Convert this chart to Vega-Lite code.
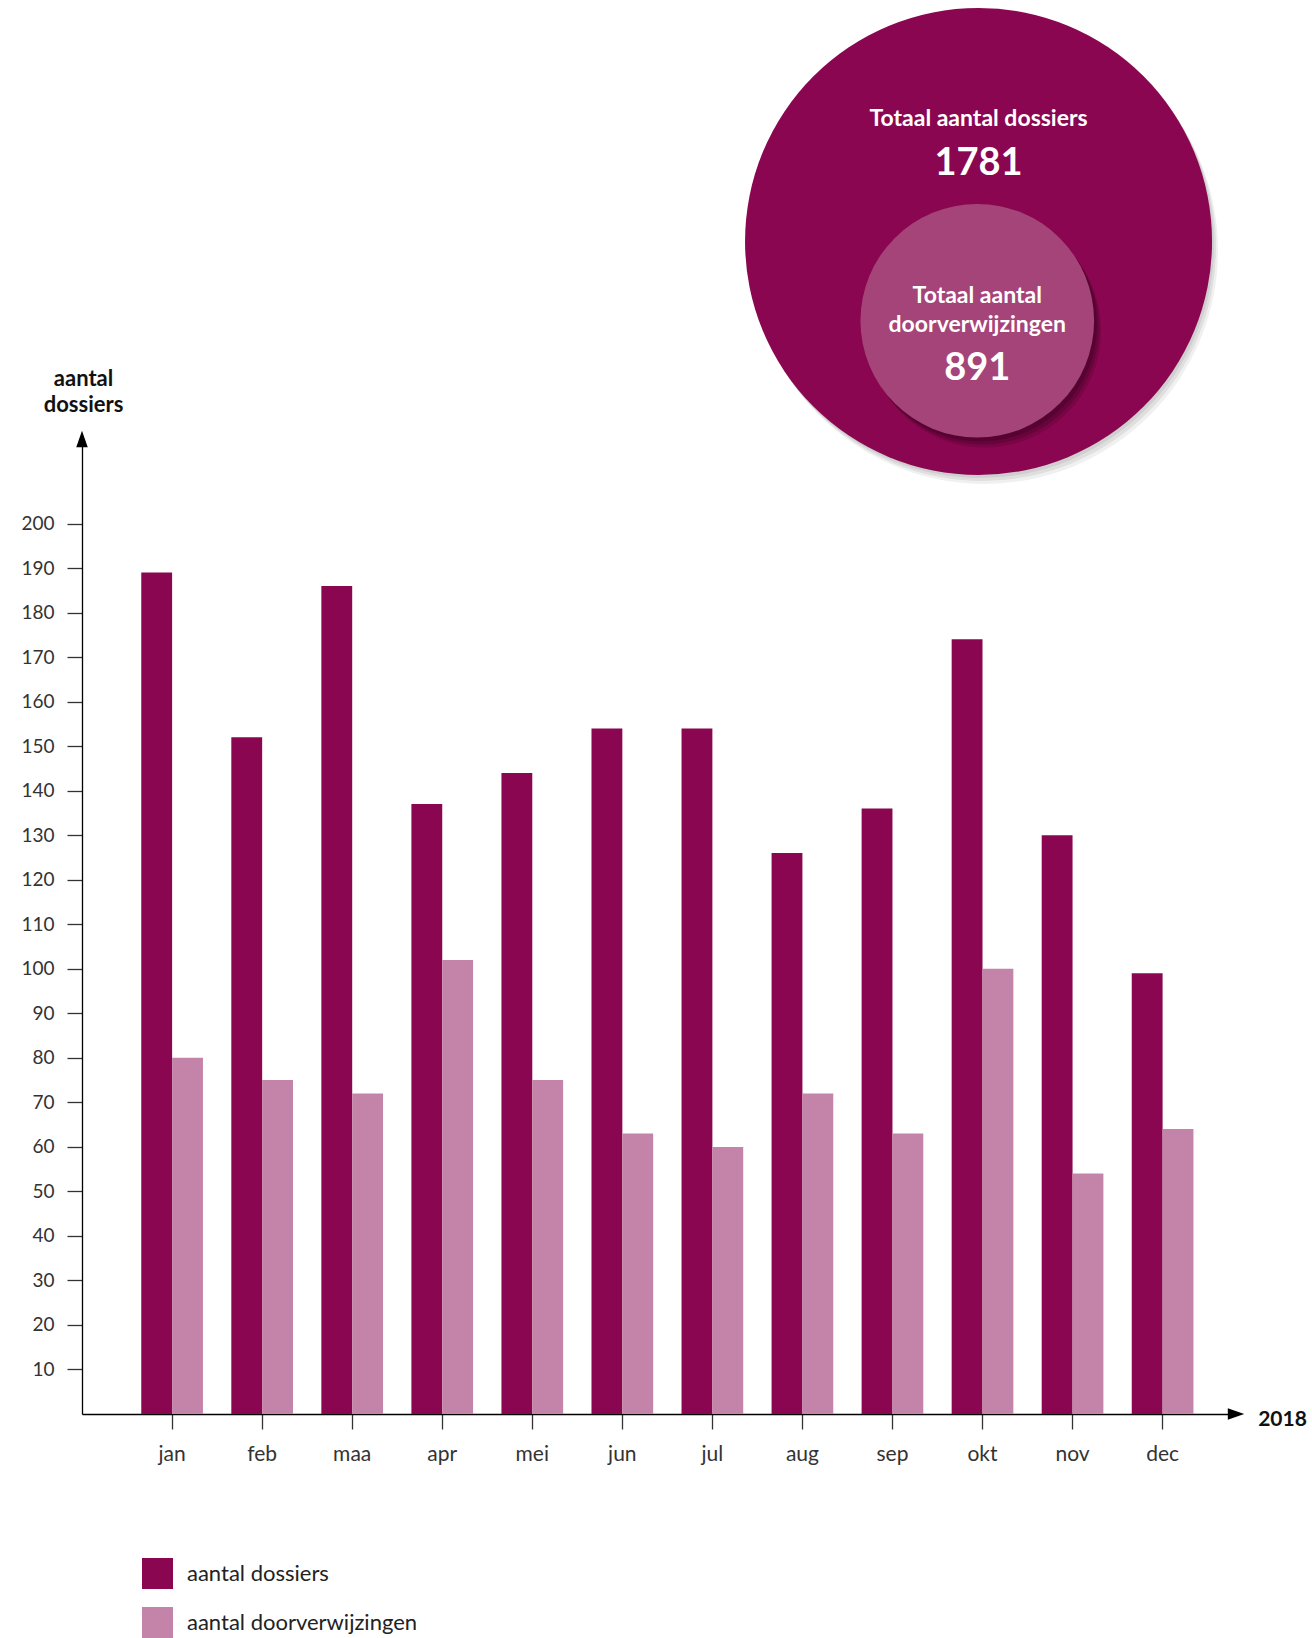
{
  "$schema": "https://vega.github.io/schema/vega-lite/v6.json",
  "autosize": {"type": "none"},
  "width": 1154,
  "height": 975,
  "padding": {"left": 82, "top": 439, "right": 76, "bottom": 224},
  "background": "white",
  "config": {
    "view": {"stroke": null},
    "font": "Lato"
  },
  "datasets": {
    "maanden": [
      {"maand": "jan", "reeks": "aantal dossiers", "aantal": 189},
      {"maand": "jan", "reeks": "aantal doorverwijzingen", "aantal": 80},
      {"maand": "feb", "reeks": "aantal dossiers", "aantal": 152},
      {"maand": "feb", "reeks": "aantal doorverwijzingen", "aantal": 75},
      {"maand": "maa", "reeks": "aantal dossiers", "aantal": 186},
      {"maand": "maa", "reeks": "aantal doorverwijzingen", "aantal": 72},
      {"maand": "apr", "reeks": "aantal dossiers", "aantal": 137},
      {"maand": "apr", "reeks": "aantal doorverwijzingen", "aantal": 102},
      {"maand": "mei", "reeks": "aantal dossiers", "aantal": 144},
      {"maand": "mei", "reeks": "aantal doorverwijzingen", "aantal": 75},
      {"maand": "jun", "reeks": "aantal dossiers", "aantal": 154},
      {"maand": "jun", "reeks": "aantal doorverwijzingen", "aantal": 63},
      {"maand": "jul", "reeks": "aantal dossiers", "aantal": 154},
      {"maand": "jul", "reeks": "aantal doorverwijzingen", "aantal": 60},
      {"maand": "aug", "reeks": "aantal dossiers", "aantal": 126},
      {"maand": "aug", "reeks": "aantal doorverwijzingen", "aantal": 72},
      {"maand": "sep", "reeks": "aantal dossiers", "aantal": 136},
      {"maand": "sep", "reeks": "aantal doorverwijzingen", "aantal": 63},
      {"maand": "okt", "reeks": "aantal dossiers", "aantal": 174},
      {"maand": "okt", "reeks": "aantal doorverwijzingen", "aantal": 100},
      {"maand": "nov", "reeks": "aantal dossiers", "aantal": 130},
      {"maand": "nov", "reeks": "aantal doorverwijzingen", "aantal": 54},
      {"maand": "dec", "reeks": "aantal dossiers", "aantal": 99},
      {"maand": "dec", "reeks": "aantal doorverwijzingen", "aantal": 64}
    ],
    "totalen": [
      {"soort": "dossiers", "titel": "Totaal aantal dossiers", "totaal": 1781, "cx": 77.69, "cy": 120.26},
      {"soort": "doorverwijzingen", "titel": "Totaal aantal\ndoorverwijzingen", "totaal": 891, "cx": 77.58, "cy": 112.13}
    ],
    "pijlen": [
      {"pijl": "omhoog", "px": 0, "py": 100},
      {"pijl": "rechts", "px": 100, "py": 0}
    ]
  },
  "resolve": {"scale": {"x": "independent", "y": "independent", "size": "independent", "shape": "independent", "color": "independent"}},
  "layer": [
    {
      "data": {"name": "maanden"},
      "mark": {"type": "bar"},
      "encoding": {
        "x": {
          "field": "maand", "type": "nominal",
          "sort": ["jan","feb","maa","apr","mei","jun","jul","aug","sep","okt","nov","dec"],
          "scale": {"paddingInner": 0.315, "paddingOuter": 0.5655, "align": 0.582},
          "axis": {
            "labelAngle": 0, "domainColor": "#000000", "domainWidth": 1.3,
            "tickColor": "#333333", "tickWidth": 1.3, "tickSize": 15,
            "labelFontSize": 21, "labelFont": "Lato", "labelColor": "#333333",
            "labelBaseline": "alphabetic", "labelPadding": 31,
            "title": "2018", "titleFont": "Lato", "titleFontSize": 21, "titleFontWeight": "bold",
            "titleColor": "#111111", "titleAngle": 0, "titleAlign": "center", "titleBaseline": "alphabetic",
            "titleX": 1200, "titleY": 11
          }
        },
        "xOffset": {
          "field": "reeks", "type": "nominal",
          "sort": ["aantal dossiers", "aantal doorverwijzingen"],
          "scale": {"paddingInner": 0, "paddingOuter": 0}
        },
        "y": {
          "field": "aantal", "type": "quantitative",
          "scale": {"domain": [0, 219], "nice": false, "zero": true},
          "axis": {
            "values": [10,20,30,40,50,60,70,80,90,100,110,120,130,140,150,160,170,180,190,200],
            "grid": false, "domainColor": "#000000", "domainWidth": 1.3,
            "tickColor": "#333333", "tickWidth": 1.3, "tickSize": 15,
            "labelFontSize": 19, "labelFont": "Lato", "labelColor": "#333333", "labelPadding": 13,
            "title": ["aantal", "dossiers"], "titleFont": "Lato", "titleFontSize": 22, "titleFontWeight": "bold",
            "titleColor": "#111111", "titleAngle": 0, "titleAlign": "center", "titleBaseline": "alphabetic",
            "titleX": 1, "titleY": -54, "titleLineHeight": 26
          }
        },
        "color": {
          "field": "reeks", "type": "nominal",
          "scale": {"domain": ["aantal dossiers", "aantal doorverwijzingen"], "range": ["#8A0650", "#C483A8"]},
          "legend": {
            "orient": "none", "legendX": 60, "legendY": 1119, "direction": "vertical",
            "title": null, "symbolType": "square", "symbolSize": 961, "symbolStrokeWidth": 0,
            "symbolOpacity": 1, "rowPadding": 18, "labelOffset": 14, "labelFontSize": 22,
            "labelFont": "Lato", "labelColor": "#222222", "labelLimit": 0, "padding": 0
          }
        }
      }
    },
    {
      "data": {"name": "pijlen"},
      "mark": {"type": "point", "filled": true, "opacity": 1, "color": "#000000", "size": 270},
      "encoding": {
        "x": {"field": "px", "type": "quantitative", "scale": {"domain": [0, 100], "nice": false, "zero": false}, "axis": null},
        "y": {"field": "py", "type": "quantitative", "scale": {"domain": [0, 100], "nice": false, "zero": false}, "axis": null},
        "shape": {"field": "pijl", "type": "nominal", "scale": {"domain": ["omhoog", "rechts"], "range": ["M0,-1L-0.7,1L0.7,1Z", "M1,0L-1,-0.7L-1,0.7Z"]}, "legend": null}
      }
    },
    {
      "data": {"name": "totalen"},
      "transform": [{"filter": "datum.soort === 'dossiers'"}],
      "mark": {"type": "point", "filled": true, "opacity": 0.07, "color": "#000000", "xOffset": 2, "yOffset": 3},
      "encoding": {
        "x": {"field": "cx", "type": "quantitative", "scale": {"domain": [0, 100], "nice": false, "zero": false}, "axis": null},
        "y": {"field": "cy", "type": "quantitative", "scale": {"domain": [0, 100], "nice": false, "zero": false}, "axis": null},
        "size": {"field": "totaal", "type": "quantitative", "scale": {"type": "pow", "exponent": 2, "domain": [0, 1781], "range": [0, 218089]}, "legend": null}
      }
    },
    {
      "data": {"name": "totalen"},
      "transform": [{"filter": "datum.soort === 'dossiers'"}],
      "mark": {"type": "point", "filled": true, "opacity": 0.07, "color": "#000000", "xOffset": 4, "yOffset": 6},
      "encoding": {
        "x": {"field": "cx", "type": "quantitative", "scale": {"domain": [0, 100], "nice": false, "zero": false}, "axis": null},
        "y": {"field": "cy", "type": "quantitative", "scale": {"domain": [0, 100], "nice": false, "zero": false}, "axis": null},
        "size": {"field": "totaal", "type": "quantitative", "scale": {"type": "pow", "exponent": 2, "domain": [0, 1781], "range": [0, 218089]}, "legend": null}
      }
    },
    {
      "data": {"name": "totalen"},
      "transform": [{"filter": "datum.soort === 'dossiers'"}],
      "mark": {"type": "point", "filled": true, "opacity": 0.06, "color": "#000000", "xOffset": 6, "yOffset": 9},
      "encoding": {
        "x": {"field": "cx", "type": "quantitative", "scale": {"domain": [0, 100], "nice": false, "zero": false}, "axis": null},
        "y": {"field": "cy", "type": "quantitative", "scale": {"domain": [0, 100], "nice": false, "zero": false}, "axis": null},
        "size": {"field": "totaal", "type": "quantitative", "scale": {"type": "pow", "exponent": 2, "domain": [0, 1781], "range": [0, 218089]}, "legend": null}
      }
    },
    {
      "data": {"name": "totalen"},
      "transform": [{"filter": "datum.soort === 'dossiers'"}],
      "mark": {"type": "point", "filled": true, "opacity": 1, "color": "#8A0650"},
      "encoding": {
        "x": {"field": "cx", "type": "quantitative", "scale": {"domain": [0, 100], "nice": false, "zero": false}, "axis": null},
        "y": {"field": "cy", "type": "quantitative", "scale": {"domain": [0, 100], "nice": false, "zero": false}, "axis": null},
        "size": {"field": "totaal", "type": "quantitative", "scale": {"type": "pow", "exponent": 2, "domain": [0, 1781], "range": [0, 218089]}, "legend": null}
      }
    },
    {
      "data": {"name": "totalen"},
      "transform": [{"filter": "datum.soort === 'doorverwijzingen'"}],
      "mark": {"type": "point", "filled": true, "opacity": 0.15, "color": "#000000", "xOffset": 3, "yOffset": 4},
      "encoding": {
        "x": {"field": "cx", "type": "quantitative", "scale": {"domain": [0, 100], "nice": false, "zero": false}, "axis": null},
        "y": {"field": "cy", "type": "quantitative", "scale": {"domain": [0, 100], "nice": false, "zero": false}, "axis": null},
        "size": {"field": "totaal", "type": "quantitative", "scale": {"type": "pow", "exponent": 2, "domain": [0, 1781], "range": [0, 218089]}, "legend": null}
      }
    },
    {
      "data": {"name": "totalen"},
      "transform": [{"filter": "datum.soort === 'doorverwijzingen'"}],
      "mark": {"type": "point", "filled": true, "opacity": 0.14, "color": "#000000", "xOffset": 5, "yOffset": 7},
      "encoding": {
        "x": {"field": "cx", "type": "quantitative", "scale": {"domain": [0, 100], "nice": false, "zero": false}, "axis": null},
        "y": {"field": "cy", "type": "quantitative", "scale": {"domain": [0, 100], "nice": false, "zero": false}, "axis": null},
        "size": {"field": "totaal", "type": "quantitative", "scale": {"type": "pow", "exponent": 2, "domain": [0, 1781], "range": [0, 218089]}, "legend": null}
      }
    },
    {
      "data": {"name": "totalen"},
      "transform": [{"filter": "datum.soort === 'doorverwijzingen'"}],
      "mark": {"type": "point", "filled": true, "opacity": 0.12, "color": "#000000", "xOffset": 7, "yOffset": 10},
      "encoding": {
        "x": {"field": "cx", "type": "quantitative", "scale": {"domain": [0, 100], "nice": false, "zero": false}, "axis": null},
        "y": {"field": "cy", "type": "quantitative", "scale": {"domain": [0, 100], "nice": false, "zero": false}, "axis": null},
        "size": {"field": "totaal", "type": "quantitative", "scale": {"type": "pow", "exponent": 2, "domain": [0, 1781], "range": [0, 218089]}, "legend": null}
      }
    },
    {
      "data": {"name": "totalen"},
      "transform": [{"filter": "datum.soort === 'doorverwijzingen'"}],
      "mark": {"type": "point", "filled": true, "opacity": 1, "color": "#A54478"},
      "encoding": {
        "x": {"field": "cx", "type": "quantitative", "scale": {"domain": [0, 100], "nice": false, "zero": false}, "axis": null},
        "y": {"field": "cy", "type": "quantitative", "scale": {"domain": [0, 100], "nice": false, "zero": false}, "axis": null},
        "size": {"field": "totaal", "type": "quantitative", "scale": {"type": "pow", "exponent": 2, "domain": [0, 1781], "range": [0, 218089]}, "legend": null}
      }
    },
    {
      "data": {"name": "totalen"},
      "transform": [{"filter": "datum.soort === 'dossiers'"}],
      "mark": {"type": "text", "color": "white", "font": "Lato", "fontWeight": "bold", "fontSize": 23, "align": "center", "baseline": "alphabetic", "dy": -115.5},
      "encoding": {
        "x": {"field": "cx", "type": "quantitative", "scale": {"domain": [0, 100], "nice": false, "zero": false}, "axis": null},
        "y": {"field": "cy", "type": "quantitative", "scale": {"domain": [0, 100], "nice": false, "zero": false}, "axis": null},
        "text": {"field": "titel", "type": "nominal"}
      }
    },
    {
      "data": {"name": "totalen"},
      "transform": [{"filter": "datum.soort === 'dossiers'"}],
      "mark": {"type": "text", "color": "white", "font": "Lato", "fontWeight": "bold", "fontSize": 38, "align": "center", "baseline": "alphabetic", "dy": -66.5},
      "encoding": {
        "x": {"field": "cx", "type": "quantitative", "scale": {"domain": [0, 100], "nice": false, "zero": false}, "axis": null},
        "y": {"field": "cy", "type": "quantitative", "scale": {"domain": [0, 100], "nice": false, "zero": false}, "axis": null},
        "text": {"field": "totaal", "type": "quantitative", "format": "d"}
      }
    },
    {
      "data": {"name": "totalen"},
      "transform": [{"filter": "datum.soort === 'doorverwijzingen'"}],
      "mark": {"type": "text", "color": "white", "font": "Lato", "fontWeight": "bold", "fontSize": 23, "align": "center", "baseline": "alphabetic", "dy": -17.4, "lineBreak": "\n", "lineHeight": 28.4},
      "encoding": {
        "x": {"field": "cx", "type": "quantitative", "scale": {"domain": [0, 100], "nice": false, "zero": false}, "axis": null},
        "y": {"field": "cy", "type": "quantitative", "scale": {"domain": [0, 100], "nice": false, "zero": false}, "axis": null},
        "text": {"field": "titel", "type": "nominal"}
      }
    },
    {
      "data": {"name": "totalen"},
      "transform": [{"filter": "datum.soort === 'doorverwijzingen'"}],
      "mark": {"type": "text", "color": "white", "font": "Lato", "fontWeight": "bold", "fontSize": 38, "align": "center", "baseline": "alphabetic", "dy": 59},
      "encoding": {
        "x": {"field": "cx", "type": "quantitative", "scale": {"domain": [0, 100], "nice": false, "zero": false}, "axis": null},
        "y": {"field": "cy", "type": "quantitative", "scale": {"domain": [0, 100], "nice": false, "zero": false}, "axis": null},
        "text": {"field": "totaal", "type": "quantitative", "format": "d"}
      }
    }
  ]
}
